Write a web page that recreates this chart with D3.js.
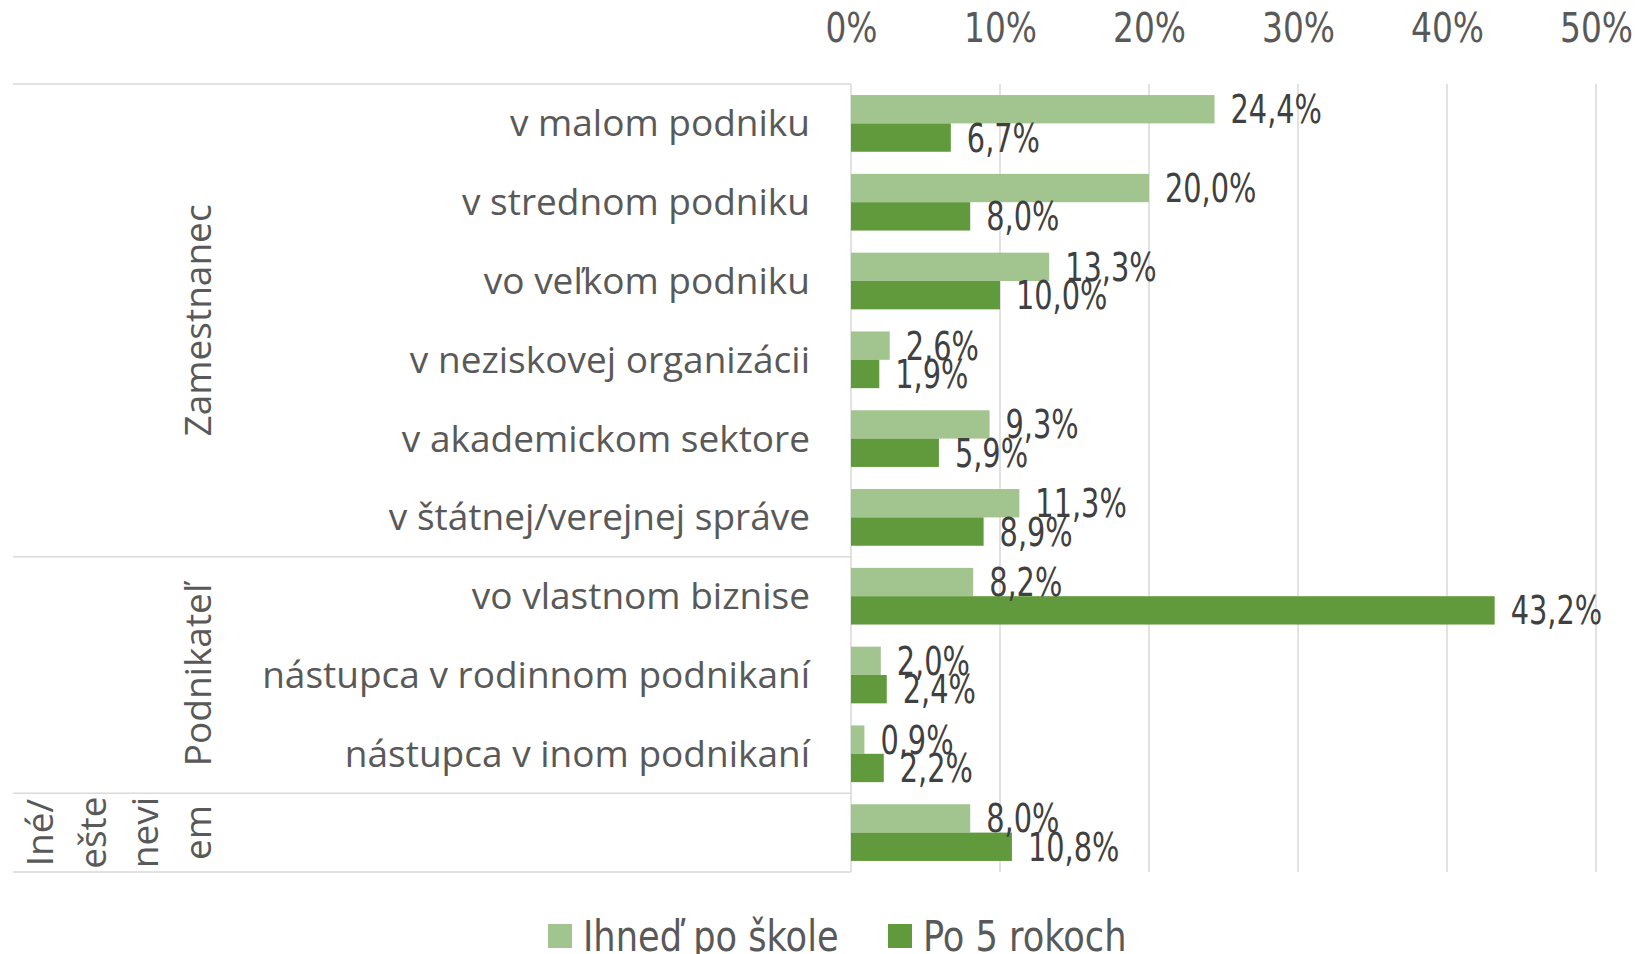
<!DOCTYPE html>
<html>
<head>
<meta charset="utf-8">
<script src="https://cdn.jsdelivr.net/npm/d3@7"></script>
<style>
body{margin:0;background:#fff;}
svg{display:block;}
.narrow{font-family:"Liberation Sans Narrow","Arial Narrow","DejaVu Sans Condensed",sans-serif;}
.wide{font-family:"Open Sans","Segoe UI",sans-serif;}
</style>
</head>
<body>
<svg id="chart" width="1646" height="954"></svg>
<script>
// categories (last one has no label in the source chart)
var categories = ["v malom podniku", "v strednom podniku", "vo veľkom podniku",
    "v neziskovej organizácii", "v akademickom sektore", "v štátnej/verejnej správe",
    "vo vlastnom biznise", "nástupca v rodinnom podnikaní", "nástupca v inom podnikaní", ""];
var groupNames = [["Zamestnanec"], ["Podnikateľ"], ["Iné/", "ešte", "nevi", "em"]];
var groupSizes = [6, 3, 1];

var seriesNames = ["Ihneď po škole", "Po 5 rokoch"];
var ihnedPoSkole = [24.4, 20.0, 13.3, 2.6, 9.3, 11.3, 8.2, 2.0, 0.9, 8.0];
var po5Rokoch   = [6.7, 8.0, 10.0, 1.9, 5.9, 8.9, 43.2, 2.4, 2.2, 10.8];
var tickValues = [0, 10, 20, 30, 40, 50];

var colors = ["#a2c48f", "#619a3c"];

var svgWidth = 1646, svgHeight = 954;
var margin = {top: 84, right: 50, bottom: 82, left: 851};
var width = svgWidth - margin.left - margin.right,
    height = svgHeight - margin.top - margin.bottom;

var rows = categories.map(function(c, i){ return {id: i, label: c, vals: [ihnedPoSkole[i], po5Rokoch[i]]}; });

var x = d3.scaleLinear().domain([0, 50]).range([0, width]);
var y = d3.scaleBand().domain(rows.map(function(d){ return d.id; })).range([0, height]).padding(0);
var ySub = d3.scaleBand().domain([0, 1]).range([0, y.bandwidth()]).paddingInner(0).paddingOuter(0.39);

// no narrow font installed: squeeze the condensed one a bit more
function squeeze(sel, k){
    sel.each(function(){
        var len = this.getComputedTextLength();
        d3.select(this).attr("textLength", len * k).attr("lengthAdjust", "spacingAndGlyphs");
    });
}

var svg = d3.select("#chart");
var g = svg.append("g").attr("transform", "translate(" + margin.left + "," + margin.top + ")");

// gridlines
g.append("g").selectAll("line")
    .data(tickValues.slice(1))
    .join("line")
    .attr("x1", function(d){ return x(d); })
    .attr("x2", function(d){ return x(d); })
    .attr("y1", 0).attr("y2", height)
    .attr("stroke", "#d9d9d9").attr("stroke-width", 1.5);

// axis on top
var xAxis = d3.axisTop(x).tickValues(tickValues).tickSize(0).tickPadding(42)
    .tickFormat(function(d){ return d + "%"; });
var gX = g.append("g").attr("class", "narrow").call(xAxis);
gX.select(".domain").remove();
gX.attr("font-family", null);
gX.selectAll("text").attr("font-size", 41).attr("fill", "#595959").call(squeeze, 0.89);

// left category box: separators
var leftEdge = 13 - margin.left;
var bounds = [0];
var acc = 0;
groupSizes.forEach(function(s){ acc += s; bounds.push(acc); });
g.append("g").selectAll("line")
    .data(bounds)
    .join("line")
    .attr("x1", leftEdge).attr("x2", 0)
    .attr("y1", function(d){ return d < rows.length ? y(d) : height; })
    .attr("y2", function(d){ return d < rows.length ? y(d) : height; })
    .attr("stroke", "#d9d9d9").attr("stroke-width", 1.5);
g.append("line")
    .attr("x1", 0).attr("x2", 0).attr("y1", 0).attr("y2", height)
    .attr("stroke", "#d9d9d9").attr("stroke-width", 1.5);

// bars
var rowG = g.append("g").selectAll("g")
    .data(rows)
    .join("g")
    .attr("transform", function(d){ return "translate(0," + y(d.id) + ")"; });

rowG.selectAll("rect")
    .data(function(d){ return d.vals; })
    .join("rect")
    .attr("x", 0)
    .attr("y", function(d, i){ return ySub(i); })
    .attr("width", function(d){ return x(d); })
    .attr("height", ySub.bandwidth())
    .attr("fill", function(d, i){ return colors[i]; });

rowG.selectAll("text.val")
    .data(function(d){ return d.vals; })
    .join("text")
    .attr("class", "val narrow")
    .attr("x", function(d){ return x(d) + 16; })
    .attr("y", function(d, i){ return ySub(i) + ySub.bandwidth() / 2; })
    .attr("dy", "0.36em")
    .attr("font-size", 39)
    .attr("fill", "#404040")
    .text(function(d){ return d.toFixed(1).replace(".", ",") + "%"; })
    .call(squeeze, 0.82);

// category labels
g.append("g").selectAll("text")
    .data(rows)
    .join("text")
    .attr("class", "wide")
    .attr("x", -41)
    .attr("y", function(d){ return y(d.id) + y.bandwidth() / 2; })
    .attr("dy", "0.35em")
    .attr("text-anchor", "end")
    .attr("font-size", 37)
    .attr("fill", "#595959")
    .text(function(d){ return d.label; });

// group labels (rotated)
var groupX = 198 - margin.left;
var lineGap = 52.5;
groupNames.forEach(function(lines, gi){
    var yc = (y(bounds[gi]) + (bounds[gi + 1] < rows.length ? y(bounds[gi + 1]) : height)) / 2;
    lines.forEach(function(t, j){
        var lx = groupX - (lines.length - 1 - j) * lineGap;
        g.append("text")
            .attr("class", "wide")
            .attr("transform", "translate(" + lx + "," + yc + ") rotate(-90)")
            .attr("text-anchor", "middle")
            .attr("dy", "0.35em")
            .attr("font-size", 37)
            .attr("fill", "#595959")
            .text(t);
    });
});

// legend
var legendX = [548, 888];
var legend = svg.append("g").selectAll("g")
    .data(seriesNames)
    .join("g")
    .attr("transform", function(d, i){ return "translate(" + legendX[i] + ",924)"; });
legend.append("rect")
    .attr("width", 24).attr("height", 24)
    .attr("fill", function(d, i){ return colors[i]; });
legend.append("text")
    .attr("class", "narrow")
    .attr("x", 35).attr("y", 12).attr("dy", "0.36em")
    .attr("font-size", 43)
    .attr("fill", "#595959")
    .text(function(d){ return d; })
    .call(squeeze, 0.91);
</script>
</body>
</html>
